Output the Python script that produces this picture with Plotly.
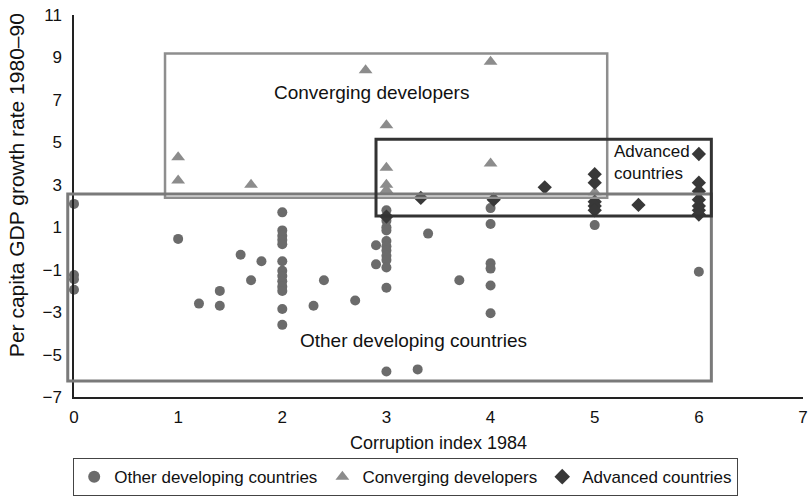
import plotly.graph_objects as go

# ---- data ----
other_x = [0, 0, 0, 0,
           1.0, 1.2, 1.4, 1.4, 1.6, 1.7, 1.8,
           2, 2, 2, 2, 2, 2, 2, 2, 2, 2, 2, 2, 2,
           2.3, 2.4, 2.7, 2.9, 2.9,
           3, 3, 3, 3, 3, 3, 3, 3, 3, 3, 3, 3,
           3.3, 3.4, 3.7,
           4, 4, 4, 4, 4, 4,
           5, 5, 6]
other_y = [2.1, -1.25, -1.45, -1.95,
           0.45, -2.6, -2.0, -2.7, -0.3, -1.5, -0.6,
           1.7, 0.85, 0.6, 0.4, 0.2, -0.6, -1.05, -1.3, -1.55, -1.8, -2.0, -2.85, -3.6,
           -2.7, -1.5, -2.45, 0.15, -0.75,
           1.8, 1.3, 1.0, 0.85, 0.35, 0.1, -0.1, -0.35, -0.55, -0.9, -1.85, -5.8,
           -5.7, 0.7, -1.5,
           1.9, 1.15, -0.7, -0.95, -1.75, -3.05,
           1.1, 1.9, -1.1]

conv_x = [1, 1, 1.7, 2.8, 3, 3, 3, 3, 4, 4, 5]
conv_y = [4.3, 3.2, 3.0, 8.4, 5.8, 3.8, 3.0, 2.75, 8.8, 4.0, 2.65]

adv_x = [3, 3.33, 4.03, 4.52, 5, 5, 5, 5, 5, 5.42, 6, 6, 6, 6, 6, 6, 6]
adv_y = [1.5, 2.38, 2.3, 2.88, 3.5, 3.1, 2.2, 2.0, 1.8, 2.05, 4.45, 3.1, 2.7, 2.3, 2.0, 1.8, 1.6]

# boxes: (x0, x1, y0, y1)
conv_box = (0.874, 5.12, 2.39, 9.19)
other_box = (-0.06, 6.12, -6.25, 2.56)
adv_box = (2.90, 6.12, 1.53, 5.14)

x_range = [0, 7]
y_range = [-7, 11]

FONT = "Liberation Sans, Arial, Helvetica, sans-serif"

fig = go.Figure()
fig.add_trace(go.Scatter(x=other_x, y=other_y, mode="markers", name="Other developing countries",
                         marker=dict(symbol="circle", size=10, color="#6b6b6b"), cliponaxis=False))
fig.add_trace(go.Scatter(x=conv_x, y=conv_y, mode="markers", name="Converging developers",
                         marker=dict(symbol="triangle-up", size=12, color="#8c8c8c"), cliponaxis=False))
fig.add_trace(go.Scatter(x=adv_x, y=adv_y, mode="markers", name="Advanced countries",
                         marker=dict(symbol="diamond", size=11, color="#383838"), cliponaxis=False))

fig.add_shape(type="rect", xref="x", yref="y", x0=conv_box[0], x1=conv_box[1], y0=conv_box[2], y1=conv_box[3],
              line=dict(color="#8e8e8e", width=2.5), fillcolor="rgba(0,0,0,0)")
fig.add_shape(type="rect", xref="paper", yref="y",
              x0=(other_box[0] - x_range[0]) / (x_range[1] - x_range[0]),
              x1=(other_box[1] - x_range[0]) / (x_range[1] - x_range[0]),
              y0=other_box[2], y1=other_box[3],
              line=dict(color="#7a7a7a", width=3), fillcolor="rgba(0,0,0,0)")
fig.add_shape(type="rect", xref="x", yref="y", x0=adv_box[0], x1=adv_box[1], y0=adv_box[2], y1=adv_box[3],
              line=dict(color="#333333", width=3), fillcolor="rgba(0,0,0,0)")

fig.add_annotation(x=2.86, y=7.37, text="Converging developers", showarrow=False,
                   font=dict(size=19, color="#111"))
fig.add_annotation(x=3.26, y=-4.36, text="Other developing countries", showarrow=False,
                   font=dict(size=19, color="#111"))
fig.add_annotation(x=5.17, y=4.03, text="Advanced<br>countries", showarrow=False, xanchor="left",
                   align="left", font=dict(size=17, color="#111"))
# y-axis title
fig.add_annotation(xref="paper", yref="paper", x=-0.078, y=0.555, xanchor="center", yanchor="middle",
                   text="Per capita GDP growth rate 1980–90", textangle=-90, showarrow=False,
                   font=dict(size=21, color="#111"))

fig.update_layout(
    width=810, height=503,
    margin=dict(l=74, r=7, t=15, b=106),
    paper_bgcolor="white", plot_bgcolor="white",
    font=dict(family=FONT, size=17, color="#111"),
    showlegend=True,
    legend=dict(orientation="h", x=0.455, xanchor="center", y=-0.16, yanchor="top",
                bordercolor="#444", borderwidth=1, font=dict(size=17),
                itemsizing="constant", tracegroupgap=0),
    xaxis=dict(range=x_range, tick0=0, dtick=1, showgrid=False, zeroline=False,
               showline=True, linecolor="#222", linewidth=1.5, ticks="", automargin=False,
               ticklabelstandoff=4, tickfont=dict(size=17), ticklabeloverflow="allow",
               title=dict(text="Corruption index 1984", font=dict(size=18), standoff=10)),
    yaxis=dict(range=y_range, tick0=-7, dtick=2, showgrid=False, zeroline=False,
               showline=True, linecolor="#222", linewidth=1.5, ticks="", automargin=False,
               ticklabelstandoff=7, tickfont=dict(size=17), ticklabeloverflow="allow"),
)

fig.write_html("out.html", config={"displayModeBar": False},
               post_script="document.body.style.margin='0';")
